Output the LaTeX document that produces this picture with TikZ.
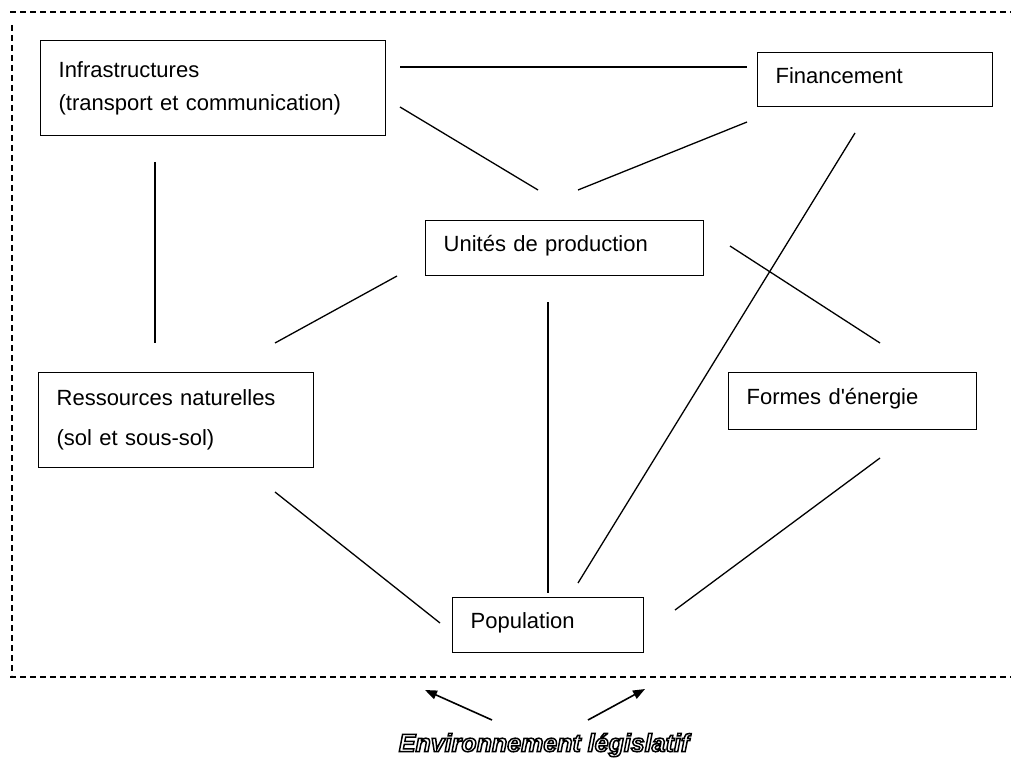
\documentclass[tikz,border=0pt]{standalone}
\usepackage{fontspec}
\setmainfont{Liberation Sans}[Ligatures=ResetAll]
\usetikzlibrary{arrows.meta}
\newcommand{\lowpad}{\rule[-9pt]{0pt}{0pt}}
\newcommand{\straightquote}{\XeTeXglyph\XeTeXcharglyph"0027\relax}
\begin{document}
\begin{tikzpicture}[x=1pt,y=-1pt,
  box/.style={draw, line width=1.3pt, anchor=north west, inner xsep=18pt, inner ysep=0pt,
    align=left, font=\fontsize{22}{26}\selectfont},
  link/.style={line width=1.3pt},
  frame/.style={line width=1.3pt, dash pattern=on 6pt off 4pt},
  envarrow/.style={line width=1.6pt, -{Triangle[length=12pt,width=9pt]}}]
\useasboundingbox (0,0) rectangle (1011,767);
% frame
\coordinate (ftl) at (10,12);
\coordinate (ftr) at (1011,12);
\coordinate (fl1) at (12,25);
\coordinate (fl2) at (12,675);
\coordinate (fbl) at (10,677);
\coordinate (fbr) at (1011,677);
\draw[frame] (ftl) -- (ftr);
\draw[frame] (fl1) -- (fl2);
\draw[frame] (fbl) -- (fbr);
% boxes
\node[box, text width=309pt, minimum height=95pt] (infra) at (40,40)
  {Infrastructures\\[7pt](transport et communication)};
\node[box, text width=199pt, minimum height=54pt] (fin) at (757,52) {Financement\lowpad};
\node[box, text width=242pt, minimum height=55pt] (unit) at (425,220) {Unités de production\lowpad};
\node[box, text width=239pt, minimum height=95pt] (ress) at (38,372)
  {Ressources naturelles\\[14pt](sol et sous-sol)};
\node[box, text width=212pt, minimum height=57pt] (form) at (728,372) {Formes d\straightquote énergie\lowpad};
\node[box, text width=155pt, minimum height=55pt] (pop) at (452,597) {Population\lowpad};
% connector end points
\coordinate (a1) at (400,67);  \coordinate (b1) at (747,67);
\coordinate (a2) at (400,107); \coordinate (b2) at (538,190);
\coordinate (a3) at (747,122); \coordinate (b3) at (578,190);
\coordinate (a4) at (855,133); \coordinate (b4) at (578,583);
\coordinate (a5) at (155,162); \coordinate (b5) at (155,343);
\coordinate (a6) at (397,276); \coordinate (b6) at (275,343);
\coordinate (a7) at (548,302); \coordinate (b7) at (548,593);
\coordinate (a8) at (730,246); \coordinate (b8) at (880,343);
\coordinate (a9) at (275,492); \coordinate (b9) at (440,623);
\coordinate (a10) at (880,458); \coordinate (b10) at (675,610);
\draw[link] (a1) -- (b1);
\draw[link] (a2) -- (b2);
\draw[link] (a3) -- (b3);
\draw[link] (a4) -- (b4);
\draw[link] (a5) -- (b5);
\draw[link] (a6) -- (b6);
\draw[link] (a7) -- (b7);
\draw[link] (a8) -- (b8);
\draw[link] (a9) -- (b9);
\draw[link] (a10) -- (b10);
% legislative environment
\node[font=\fontsize{25}{28}\bfseries\itshape] (env) at (544,745)
  {\special{pdf:code 1 Tr 1.5 w}Environnement législatif\special{pdf:code 0 Tr}};
\coordinate (l1) at (492,720); \coordinate (l2) at (425,690);
\coordinate (r1) at (588,720); \coordinate (r2) at (645,689);
\draw[envarrow] (l1) -- (l2);
\draw[envarrow] (r1) -- (r2);
\end{tikzpicture}
\end{document}
